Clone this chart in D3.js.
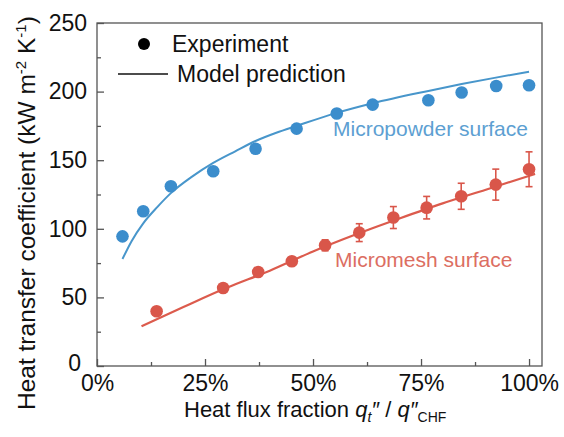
<!DOCTYPE html>
<html><head><meta charset="utf-8">
<script src="https://cdn.jsdelivr.net/npm/d3@7"></script>
<style>body{margin:0;background:#fff}svg{display:block}text{font-family:"Liberation Sans",Arial,sans-serif}</style>
</head><body><svg id="c" width="564" height="437"></svg>
<script>
// Data
const blueX = [0.059,0.107,0.171,0.269,0.367,0.462,0.555,0.638,0.767,0.844,0.924,1.0];
const blueY = [94.5,112.8,131.0,141.9,158.4,173.0,184.0,190.5,193.7,199.3,204.1,204.6];
const redX = [0.138,0.292,0.373,0.451,0.528,0.607,0.686,0.763,0.843,0.923,1.0];
const redY = [39.9,56.9,68.5,76.3,88.0,97.2,108.2,115.4,123.7,132.2,143.4];
const redErr = [2,2,2.5,3,4,6.5,8,8.2,9.5,11.3,12.7];
const blueModelX = [0.059,0.08,0.107,0.14,0.171,0.22,0.269,0.32,0.367,0.415,0.462,0.555,0.638,0.767,0.844,0.92,1.0];
const blueModelY = [78,91,104,116,126,138,148,156.5,164,170,175,184.5,191.5,200.5,205.5,210,214.5];
const redModelX = [0.103,0.2,0.3,0.4,0.5,0.6,0.7,0.8,0.9,1.014];
const redModelY = [29,43,57,69.5,83.5,96,107.5,118.5,128.5,140];
const xTicks = [0,0.25,0.5,0.75,1.0];
const xTickLabels = ["0%","25%","50%","75%","100%"];
const yTicks = [0,50,100,150,200,250];

const svg = d3.select("#c");
const L=97,R=542,T=23,B=366;
const x = d3.scaleLinear().domain([0,1.03]).range([L,R]);
const y = d3.scaleLinear().domain([0,250]).range([B,T]);
const axisCol = "#555";

// frame
svg.append("rect").attr("x",L).attr("y",T).attr("width",R-L).attr("height",B-T)
  .attr("fill","none").attr("stroke",axisCol).attr("stroke-width",1.3);

// x axis ticks (inward)
const gx = svg.append("g").attr("transform",`translate(0,${B})`)
  .call(d3.axisBottom(x).tickValues(xTicks).tickSize(-7).tickFormat((d,i)=>xTickLabels[i]).tickPadding(9));
gx.select(".domain").remove();
gx.selectAll(".tick line").attr("stroke",axisCol).attr("stroke-width",1.3);
gx.selectAll(".tick text").attr("font-size",23).attr("fill","#111").attr("dy","0.71em")
  .attr("font-family","'Liberation Sans',Arial,sans-serif");
const gxm = svg.append("g").attr("transform",`translate(0,${B})`)
  .call(d3.axisBottom(x).tickValues([0.125,0.375,0.625,0.875]).tickSize(-4).tickFormat(""));
gxm.select(".domain").remove();
gxm.selectAll(".tick line").attr("stroke",axisCol).attr("stroke-width",1.3);

// y axis
const gy = svg.append("g").attr("transform",`translate(${L},0)`)
  .call(d3.axisLeft(y).tickValues(yTicks).tickSize(-7).tickPadding(10));
gy.select(".domain").remove();
gy.selectAll(".tick line").attr("stroke",axisCol).attr("stroke-width",1.3);
gy.selectAll(".tick text").attr("font-size",23).attr("fill","#111")
  .attr("font-family","'Liberation Sans',Arial,sans-serif")
  .attr("x",d=>d===0?-16:-10).attr("dy",d=>d===0?"0.2em":"0.32em");
const gym = svg.append("g").attr("transform",`translate(${L},0)`)
  .call(d3.axisLeft(y).tickValues([25,75,125,175,225]).tickSize(-4).tickFormat(""));
gym.select(".domain").remove();
gym.selectAll(".tick line").attr("stroke",axisCol).attr("stroke-width",1.3);

// colors
const blueLine="#4896cb", blueDot="#3b8dcc", redLine="#dc5b4d", redDot="#d9564a";

const line = d3.line().x(d=>x(d[0])).y(d=>y(d[1])).curve(d3.curveMonotoneX);
svg.append("path").datum(blueModelX.map((v,i)=>[v,blueModelY[i]]))
  .attr("d",line).attr("fill","none").attr("stroke",blueLine).attr("stroke-width",2);
svg.append("path").datum(redModelX.map((v,i)=>[v,redModelY[i]]))
  .attr("d",line).attr("fill","none").attr("stroke",redLine).attr("stroke-width",2.2);

// error bars
const eb = svg.append("g").attr("stroke",redDot).attr("stroke-width",1.6);
redX.forEach((v,i)=>{
  const cx=x(v), y1=y(redY[i]+redErr[i]), y2=y(redY[i]-redErr[i]);
  eb.append("line").attr("x1",cx).attr("x2",cx).attr("y1",y1).attr("y2",y2);
  eb.append("line").attr("x1",cx-3.5).attr("x2",cx+3.5).attr("y1",y1).attr("y2",y1);
  eb.append("line").attr("x1",cx-3.5).attr("x2",cx+3.5).attr("y1",y2).attr("y2",y2);
});

svg.append("g").selectAll("circle").data(blueX).join("circle")
  .attr("cx",d=>x(d)).attr("cy",(d,i)=>y(blueY[i])).attr("r",6.3).attr("fill",blueDot);
svg.append("g").selectAll("circle").data(redX).join("circle")
  .attr("cx",d=>x(d)).attr("cy",(d,i)=>y(redY[i])).attr("r",6.3).attr("fill",redDot);

// inline labels
svg.append("text").attr("x",333).attr("y",136).attr("font-size",21).attr("fill","#5d9fd2").text("Micropowder surface");
svg.append("text").attr("x",335).attr("y",267).attr("font-size",21).attr("fill","#dc6e62").text("Micromesh surface");

// legend
svg.append("circle").attr("cx",144).attr("cy",44).attr("r",6).attr("fill","#000");
svg.append("text").attr("x",172).attr("y",52).attr("font-size",23).attr("fill","#111").text("Experiment");
svg.append("line").attr("x1",118).attr("x2",168).attr("y1",74).attr("y2",74).attr("stroke","#111").attr("stroke-width",1.6);
svg.append("text").attr("x",177).attr("y",82).attr("font-size",23).attr("fill","#111").text("Model prediction");

// x label
const xl = svg.append("text").attr("x",184).attr("y",417).attr("font-size",22).attr("fill","#111");
xl.append("tspan").text("Heat flux fraction ");
xl.append("tspan").attr("font-style","italic").text("q");
xl.append("tspan").attr("font-style","italic").attr("font-size",14).attr("dy",5).text("t");
xl.append("tspan").attr("font-style","italic").attr("dy",-5).text("″");
xl.append("tspan").text(" / ");
xl.append("tspan").attr("font-style","italic").text("q");
xl.append("tspan").attr("font-style","italic").text("″");
xl.append("tspan").attr("font-size",14).attr("dy",5).text("CHF");

// y label
const yl = svg.append("text").attr("transform","translate(35,410) rotate(-90)").attr("font-size",24.5).attr("fill","#111");
yl.append("tspan").text("Heat transfer coefficient (kW m");
yl.append("tspan").attr("font-size",15).attr("dy",-9).text("-2");
yl.append("tspan").attr("dy",9).text(" K");
yl.append("tspan").attr("font-size",15).attr("dy",-9).text("-1");
yl.append("tspan").attr("dy",9).text(")");
</script></body></html>
